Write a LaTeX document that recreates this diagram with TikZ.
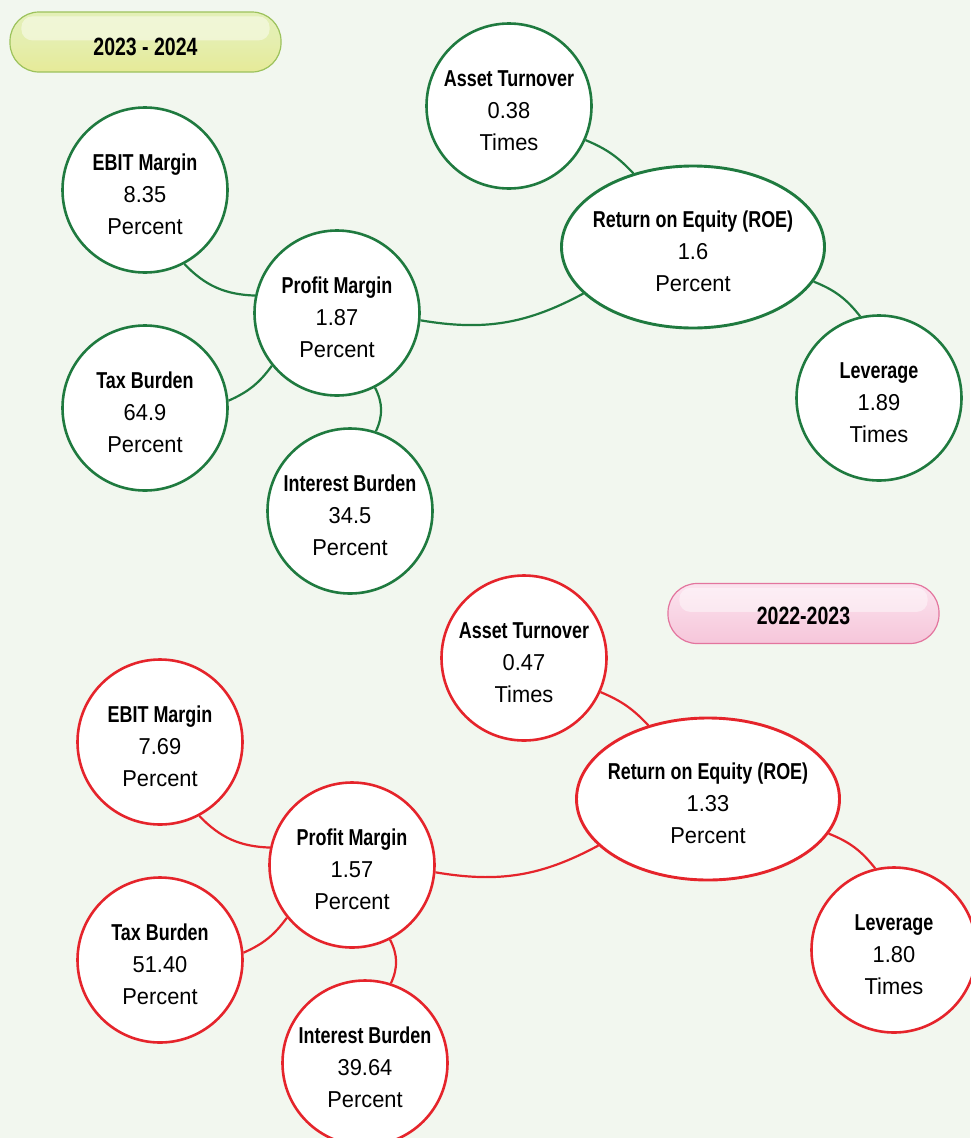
\documentclass[tikz,border=0pt]{standalone}
\usepackage{fontspec}
\setmainfont{Liberation Sans}[FakeStretch=0.95, BoldFeatures={FakeStretch=0.78}]
\usetikzlibrary{shapes.geometric,calc}

\definecolor{pagebg}{HTML}{F2F7EF}
\definecolor{treegreen}{HTML}{1F7A3F}
\definecolor{treered}{HTML}{E5242B}
\definecolor{pillgreentop}{HTML}{E4F0B8}
\definecolor{pillgreenbot}{HTML}{E6EA98}
\definecolor{pillgreenedge}{HTML}{9CC25C}
\definecolor{pillpinktop}{HTML}{F9D2E4}
\definecolor{pillpinkbot}{HTML}{F6C6DA}
\definecolor{pillpinkedge}{HTML}{E3759E}

\newcommand\toprule{\rule{0pt}{25pt}}

\tikzset{
  bubble/.style={circle, draw=#1, line width=2.6pt, fill=white,
    minimum size=165pt, inner sep=-14pt, align=center,
    font=\fontsize{23}{32}\selectfont},
  roebubble/.style={ellipse, draw=#1, line width=2.9pt, fill=white,
    minimum width=263pt, minimum height=162pt, inner sep=-16pt, align=center,
    font=\fontsize{23}{32}\selectfont},
  link/.style={draw=#1, line width=2.2pt},
  pill/.style={rounded corners=29pt, draw=#1, line width=1.2pt,
    minimum width=271pt, minimum height=60pt, inner sep=0pt},
  pilltext/.style={font=\fontsize{25}{30}\selectfont\bfseries},
  shine/.style={fill=white, opacity=0.45, rounded corners=11pt}
}

% One DuPont tree: #1 name prefix, #2 colour, #3 asset turnover, #4 EBIT margin,
% #5 profit margin, #6 tax burden, #7 interest burden, #8 ROE, #9 leverage
\newcommand\dupontree[9]{%
  \node[bubble=#2] (#1at)  at (509,106) {\toprule\textbf{Asset Turnover}\\#3\\Times};
  \node[bubble=#2] (#1eb)  at (145,190) {\toprule\textbf{EBIT Margin}\\#4\\Percent};
  \node[bubble=#2] (#1pm)  at (337,313) {\toprule\textbf{Profit Margin}\\#5\\Percent};
  \node[bubble=#2] (#1tax) at (145,408) {\toprule\textbf{Tax Burden}\\#6\\Percent};
  \node[bubble=#2] (#1int) at (350,511) {\toprule\textbf{Interest Burden}\\#7\\Percent};
  \node[roebubble=#2] (#1roe) at (693,247) {\toprule\textbf{Return on Equity (ROE)}\\#8\\Percent};
  \node[bubble=#2] (#1lev) at (879,398) {\toprule\textbf{Leverage}\\#9\\Times};
  \path[link=#2] (#1eb.-62)  to[bend right=22] (#1pm.168);
  \path[link=#2] (#1tax.5)   to[bend right=15] (#1pm.-141);
  \path[link=#2] (#1int.72)  to[bend right=26] (#1pm.-63);
  \path[link=#2] (#1pm.-5)   to[bend right=19] (#1roe.-157);
  \path[link=#2] (#1at.-24)  to[bend left=12]  (#1roe.129);
  \path[link=#2] (#1roe.-16) to[bend left=15]  (#1lev.103);
}

\begin{document}
\begin{tikzpicture}[x=1pt, y=-1pt]
  \fill[pagebg] (0,0) rectangle (970,1138);
  \useasboundingbox (0,0) rectangle (970,1138);

  % 2023 - 2024
  \node[pill=pillgreenedge, top color=pillgreentop, bottom color=pillgreenbot,
        middle color=pillgreentop!70!pillgreenbot] (yearA) at (145.5,42) {};
  \fill[shine] ($(yearA.north west)+(12,5)$) rectangle ($(yearA.north east)+(-12,29)$);
  \node[pilltext] (yearAtext) at (145.5,47) {2023 - 2024};

  % 2022-2023
  \node[pill=pillpinkedge, top color=pillpinktop!60!white, bottom color=pillpinkbot] (yearB) at (803.5,613.5) {};
  \fill[shine] ($(yearB.north west)+(12,5)$) rectangle ($(yearB.north east)+(-12,29)$);
  \node[pilltext] (yearBtext) at (803.5,616) {2022-2023};

  \dupontree{g}{treegreen}{0.38}{8.35}{1.87}{64.9}{34.5}{1.6}{1.89}
  \begin{scope}[shift={(15,552)}]
    \dupontree{r}{treered}{0.47}{7.69}{1.57}{51.40}{39.64}{1.33}{1.80}
  \end{scope}
\end{tikzpicture}
\end{document}
